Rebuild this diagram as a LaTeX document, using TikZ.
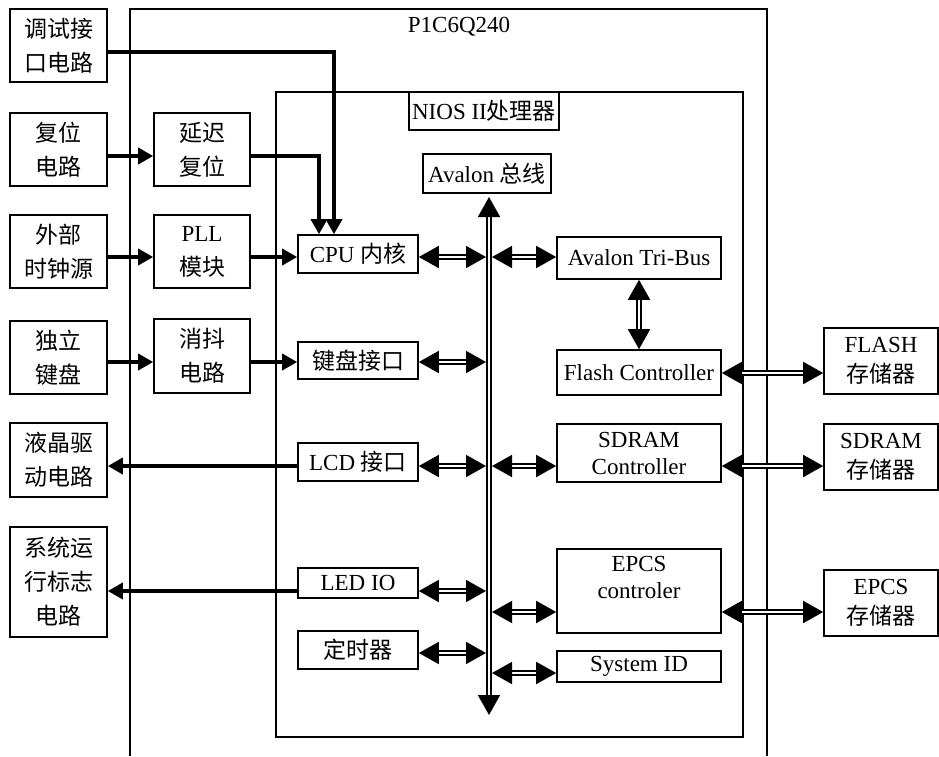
\documentclass[tikz,border=0pt]{standalone}
\usepackage{fontspec}
\setmainfont{Liberation Serif}
\newfontfamily\cjk{Noto Sans CJK SC}
\usepackage{tikz}
\usetikzlibrary{arrows.meta,positioning,calc}
\newcommand{\zh}[1]{{\cjk #1}}

\begin{document}
\begin{tikzpicture}[
  x=1pt, y=-1pt,
  font=\fontsize{23}{34}\selectfont,
  blk/.style={draw, line width=1.6pt, align=center, inner sep=0pt},
  lbox/.style={blk, minimum width=97pt},
  mbox/.style={blk, minimum width=96pt},
  cbox/.style={blk, minimum width=120pt},
  rbox/.style={blk, minimum width=164pt, font=\fontsize{23}{27}\selectfont},
  sbox/.style={blk, minimum width=114pt, font=\fontsize{23}{30}\selectfont},
  cn/.style={font=\fontsize{23}{34}\selectfont\cjk},
  thk/.style={line width=3.5pt, -{Triangle[length=15pt,width=16pt]}},
  bidir/.style={double, line width=1.7pt, double distance=2.2pt,
                {Triangle[length=20pt,width=22pt]}-{Triangle[length=20pt,width=22pt]}},
]
\useasboundingbox (0,0) rectangle (939,756);

%─── Containers ──────────────────────────────────────────────────────────────
\draw[line width=1.6pt] (130,756) |- (767,9) -- (767,756);
\draw[line width=1.6pt] (276,92) rectangle (743,737);
\node (chip) at (459,27) {P1C6Q240};
\node[blk, minimum width=150pt, minimum height=38pt] (nios) at (484,111) {NIOS II\zh{处理器}};
\node[blk, minimum width=128pt, minimum height=39pt] (avb) at (487,173.5) {Avalon \zh{总线}};

%─── Left column: board circuits ─────────────────────────────────────────────
\node[lbox, cn, minimum height=73pt] (dbg) at (58.5,45.5) {调试接\\口电路};
\node[lbox, cn, minimum height=73pt] (rst) at (58.5,149.5) {复位\\电路};
\node[lbox, cn, minimum height=73pt] (clk) at (58.5,251.5) {外部\\时钟源};
\node[lbox, cn, minimum height=73pt] (key) at (58.5,357.5) {独立\\键盘};
\node[lbox, cn, minimum height=74pt] (lcdd) at (58.5,460) {液晶驱\\动电路};
\node[lbox, cn, minimum height=110pt] (sysr) at (58.5,582) {系统运\\行标志\\电路};

% FPGA side helpers
\node[mbox, cn, minimum height=73pt] (dly) at (202,149.5) {延迟\\复位};
\node[mbox, minimum height=73pt] (pll) at (202,251.5) {PLL\\\zh{模块}};
\node[mbox, cn, minimum height=74pt] (deb) at (202,356) {消抖\\电路};

%─── NIOS II peripherals ─────────────────────────────────────────────────────
\node[cbox, minimum height=38pt] (cpu) at (358,254) {CPU \zh{内核}};
\node[cbox, cn, minimum height=37pt] (kbi) at (358,360.5) {键盘接口};
\node[cbox, minimum height=38pt] (lcdi) at (358,462) {LCD \zh{接口}};
\node[cbox, minimum height=30pt] (ledio) at (358,583) {LED IO};
\node[cbox, cn, minimum height=38pt] (tmr) at (358,650) {定时器};

\node[rbox, minimum height=42pt] (tri) at (639,258) {Avalon Tri-Bus};
\node[rbox, minimum height=45pt] (flc) at (639,372.5) {Flash Controller};
\node[rbox, minimum height=58pt] (sdc) at (639,453) {SDRAM\\Controller};
\node[rbox, minimum height=84pt] (epc) at (639,591) {EPCS\\controler\\\mbox{}};
\node[rbox, minimum height=31pt] (sid) at (639,666.5) {System ID};

%─── External memories ───────────────────────────────────────────────────────
\node[sbox, minimum height=66pt] (flm) at (881,361) {FLASH\\\zh{存储器}};
\node[sbox, minimum height=66pt] (sdm) at (881,457) {SDRAM\\\zh{存储器}};
\node[sbox, minimum height=66pt] (epm) at (881,603) {EPCS\\\zh{存储器}};

% rows and bus edges
\coordinate (rD) at (0,52);
\coordinate (rR) at (0,156);
\coordinate (rC) at (0,257);
\coordinate (rK) at (0,362);
\coordinate (rF) at (0,373);
\coordinate (rL) at (0,466);
\coordinate (rE) at (0,591);
\coordinate (rP) at (0,612);
\coordinate (rT) at (0,653);
\coordinate (rS) at (0,673);
\coordinate (bt) at (489,197);
\coordinate (bb) at (489,715);
\coordinate (busL) at (486,0);
\coordinate (busR) at (492,0);

%─── Signal arrows ───────────────────────────────────────────────────────────
\draw[thk] (dbg.east |- rD) -| ([xshift=-24pt]cpu.north);
\draw[thk] (dly.east |- rR) -| ([xshift=-39pt]cpu.north);
\draw[thk] (rst.east |- rR) -- (dly.west |- rR);
\draw[thk] (clk.east |- rC) -- (pll.west |- rC);
\draw[thk] (pll.east |- rC) -- (cpu.west |- rC);
\draw[thk] (key.east |- rK) -- (deb.west |- rK);
\draw[thk] (deb.east |- rK) -- (kbi.west |- rK);
\draw[thk] (lcdi.west |- rL) -- (lcdd.east |- rL);
\draw[thk] (ledio.west |- rE) -- (sysr.east |- rE);

%─── Avalon bus links ────────────────────────────────────────────────────────
\draw[bidir] (bt) -- (bb);
\draw[bidir] (cpu.east |- rC) -- (busL |- rC);
\draw[bidir] (busR |- rC) -- (tri.west |- rC);
\draw[bidir] (kbi.east |- rK) -- (busL |- rK);
\draw[bidir] (lcdi.east |- rL) -- (busL |- rL);
\draw[bidir] (busR |- rL) -- (sdc.west |- rL);
\draw[bidir] (ledio.east |- rE) -- (busL |- rE);
\draw[bidir] (busR |- rP) -- (epc.west |- rP);
\draw[bidir] (tmr.east |- rT) -- (busL |- rT);
\draw[bidir] (busR |- rS) -- (sid.west |- rS);
\draw[bidir] (tri.south) -- (flc.north);
\draw[bidir] (flc.east |- rF) -- (flm.west |- rF);
\draw[bidir] (sdc.east |- rL) -- (sdm.west |- rL);
\draw[bidir] (epc.east |- rP) -- (epm.west |- rP);

\end{tikzpicture}
\end{document}
